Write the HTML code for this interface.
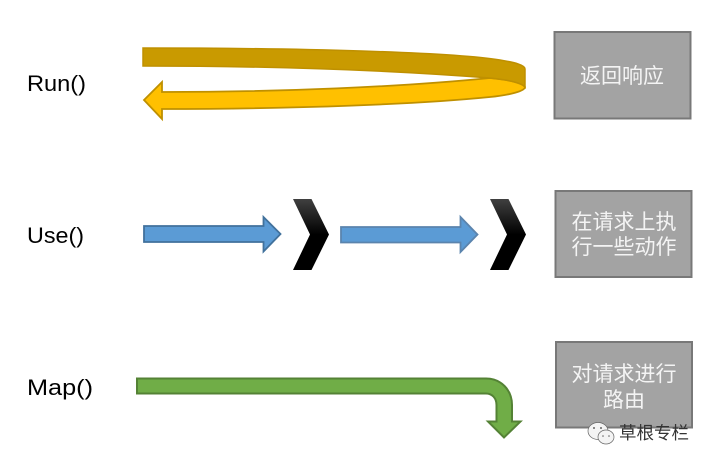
<!DOCTYPE html>
<html><head><meta charset="utf-8">
<style>
html,body{margin:0;padding:0;background:#fff}
body{width:711px;height:465px;overflow:hidden}
svg{display:block}
text{font-family:"Liberation Sans","Noto Sans CJK SC",sans-serif}
</style></head>
<body>
<svg width="711" height="465" viewBox="0 0 711 465" xmlns="http://www.w3.org/2000/svg">
<defs><linearGradient id="g" x1="0" y1="0" x2="0" y2="1"><stop offset="0" stop-color="#404040"/><stop offset="0.5" stop-color="#000"/><stop offset="1" stop-color="#000"/></linearGradient></defs>
<!-- U-turn arrow -->
<path d="M162,82 L144,100 L162,119 L162,109 C300,109 420,104 490,97 C510,95 525,91 525,87 C522,83 510,80 490,78 C400,87 280,92 162,92 Z" fill="#ffc000" stroke="#bf9000" stroke-width="1.800"/>
<path d="M143,48 C300,48 450,52 500,60 C515,62.500 525,65 525,69 L525,87 C522,83 510,80 490,78 C400,71 280,66 143,66 Z" fill="#c99a00" stroke="#bf9000" stroke-width="1.500"/>
<!-- blue arrows -->
<path d="M144,226 L263.500,226 L263.500,217 L280.500,234 L263.500,251.500 L263.500,242 L144,242 Z" fill="#5b9bd5" stroke="#41719c" stroke-width="1.800"/>
<path d="M341,227 L460.500,227 L460.500,217 L477.500,234.500 L460.500,252 L460.500,242.500 L341,242.500 Z" fill="#5b9bd5" stroke="#5b84ad" stroke-width="1.800"/>
<!-- chevrons -->
<path d="M293,199 L311.500,199 L329,234.500 L311.500,270 L293,270 L310,234.500 Z" fill="url(#g)"/>
<path d="M490,199 L508.500,199 L526,234.500 L508.500,270 L490,270 L507,234.500 Z" fill="url(#g)"/>
<!-- green arrow -->
<path d="M137,378.500 L486,378.500 C501,378.500 512,390 512,405 L512,421.500 L520.500,421.500 L504,437.500 L488,421.500 L496.500,421.500 L496.500,405 C496.500,398 492,393.500 486,393.500 L137,393.500 Z" fill="#70ad47" stroke="#548235" stroke-width="2"/>
<!-- boxes -->
<rect x="554.500" y="32" width="136" height="86.500" fill="#a3a3a3" stroke="#787878" stroke-width="2"/>
<rect x="555.500" y="191" width="136" height="86" fill="#a3a3a3" stroke="#787878" stroke-width="2"/>
<rect x="556" y="342" width="136" height="85.500" fill="#a3a3a3" stroke="#787878" stroke-width="2"/>
<!-- labels -->
<g fill="#000" font-size="22.500" lengthAdjust="spacingAndGlyphs">
<text x="27" y="91" textLength="59" lengthAdjust="spacingAndGlyphs">Run()</text>
<text x="27" y="243" textLength="57" lengthAdjust="spacingAndGlyphs">Use()</text>
<text x="27" y="395" textLength="66" lengthAdjust="spacingAndGlyphs">Map()</text>
</g>
<g fill="#f4f4f4" font-size="21" text-anchor="middle">
<text x="622" y="83">返回响应</text>
<text x="624" y="229">在请求上执</text>
<text x="624" y="254">行一些动作</text>
<text x="624" y="381">对请求进行</text>
<text x="624" y="407">路由</text>
</g>
<!-- watermark -->
<g fill="#f4f4f4" stroke="#666" stroke-width="0.700">
<ellipse cx="598" cy="431" rx="10" ry="8.500"/>
<ellipse cx="606" cy="437" rx="8" ry="7"/>
</g>
<g fill="#666"><circle cx="594" cy="428" r="1"/><circle cx="601" cy="428" r="1"/><circle cx="603" cy="436" r="0.800"/><circle cx="609" cy="436" r="0.800"/></g>
<text x="619" y="439" font-size="17.500" fill="#333">草根专栏</text>
</svg>
</body></html>
